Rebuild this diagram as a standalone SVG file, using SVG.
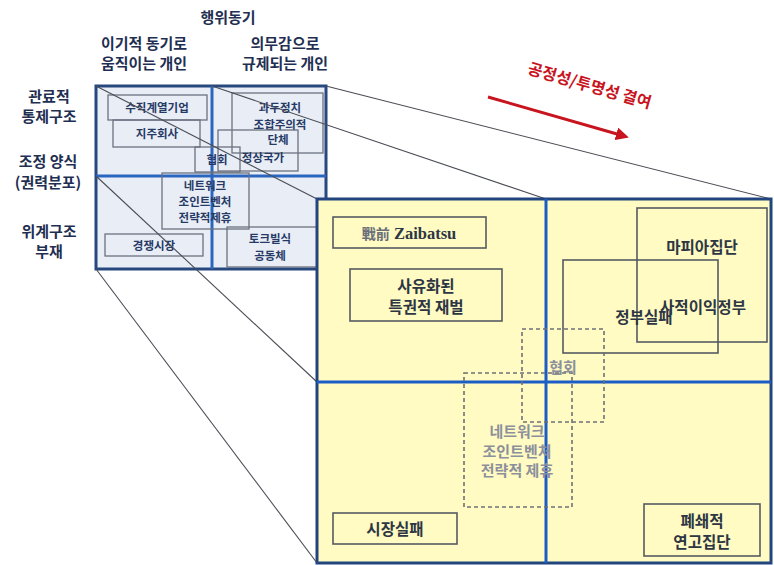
<svg xmlns="http://www.w3.org/2000/svg" width="774" height="565" viewBox="0 0 774 565">
<defs>
<style>
.hd{font-family:"Noto Sans CJK KR","Noto Sans",sans-serif;font-weight:bold;font-size:15px;fill:#1f2f52;text-anchor:middle}
.sm{font-family:"Noto Sans CJK KR","Noto Sans",sans-serif;font-weight:bold;font-size:11.5px;fill:#263a66;text-anchor:middle}
.lg{font-family:"Noto Sans CJK KR","Noto Sans",sans-serif;font-weight:bold;font-size:15.6px;fill:#2d3644;text-anchor:middle}
.gr{font-family:"Noto Sans CJK KR","Noto Sans",sans-serif;font-weight:bold;font-size:15px;fill:#8c8f9c;text-anchor:middle}
.sb{fill:none;stroke:#6c7180;stroke-width:1.3}
.lb{fill:none;stroke:#555a62;stroke-width:1.6}
.db{fill:none;stroke:#6e7178;stroke-width:1.6;stroke-dasharray:4 3}
.con{stroke:#4a4d55;stroke-width:1.1;fill:none}
</style>
<marker id="ah" markerWidth="13" markerHeight="13" refX="8" refY="6.5" orient="auto" markerUnits="userSpaceOnUse">
<path d="M0,0 L13,6.5 L0,13 z" fill="#c8141e"/>
</marker>
</defs>
<rect width="774" height="565" fill="#ffffff"/>

<g id="headers">
<text class="hd" x="228" y="23">행위동기</text>
<text class="hd" x="144" y="48.5">이기적 동기로</text>
<text class="hd" x="144" y="68.5">움직이는 개인</text>
<text class="hd" x="285" y="48.5">의무감으로</text>
<text class="hd" x="285" y="68.5">규제되는 개인</text>
<text class="hd" x="49" y="102">관료적</text>
<text class="hd" x="49" y="122">통제구조</text>
<text class="hd" x="48" y="167">조정 양식</text>
<text class="hd" x="48" y="188">(권력분포)</text>
<text class="hd" x="49" y="237">위계구조</text>
<text class="hd" x="49" y="257">부재</text>
</g>

<g id="small-grid">
<rect x="96" y="86" width="230" height="183" fill="#e9edf6" stroke="#26487e" stroke-width="3"/>
<line x1="212" y1="86" x2="212" y2="269" stroke="#2a66c0" stroke-width="3"/>
<line x1="96" y1="176" x2="326" y2="176" stroke="#2a66c0" stroke-width="3"/>
</g>
<g id="s-suzik"><rect class="sb" x="108" y="95" width="99" height="25"/><text class="sm" x="157" y="112">수직계열기업</text></g>
<g id="s-jiju"><rect class="sb" x="113" y="120" width="87" height="27"/><text class="sm" x="157" y="138">지주회사</text></g>
<g id="s-hyuphoe"><rect class="sb" x="195" y="147" width="45" height="25"/><text class="sm" x="217" y="164">협회</text></g>
<g id="s-gwadu"><rect class="sb" x="232" y="93" width="91" height="60"/><text class="sm" x="280" y="112">과두정치</text><text class="sm" x="280" y="129">조합주의적</text><text class="sm" x="278" y="144">단체</text></g>
<g id="s-jeongsang"><rect class="sb" x="218" y="130" width="80" height="41"/><text class="sm" x="263" y="162">정상국가</text></g>
<g id="s-network"><rect class="sb" x="162" y="173" width="87" height="56"/><text class="sm" x="205" y="190">네트워크</text><text class="sm" x="205" y="206">조인트벤처</text><text class="sm" x="205" y="222">전략적제휴</text></g>
<g id="s-market"><rect class="sb" x="105" y="234" width="98" height="22"/><text class="sm" x="154" y="250">경쟁시장</text></g>
<g id="s-tocq"><rect class="sb" x="227" y="227" width="96" height="40"/><text class="sm" x="270" y="243">토크빌식</text><text class="sm" x="270" y="260">공동체</text></g>

<g id="connectors">
<line class="con" x1="96" y1="86" x2="317" y2="199"/>
<line class="con" x1="212" y1="86" x2="546" y2="199"/>
<line class="con" x1="326" y1="86" x2="771" y2="199"/>
<line class="con" x1="96" y1="176" x2="317" y2="382"/>
<line class="con" x1="96" y1="269" x2="317" y2="563"/>
<line x1="488" y1="97" x2="624" y2="136" stroke="#c8141e" stroke-width="3" marker-end="url(#ah)"/>
</g>
<g id="arrow-label"><text transform="translate(588,91) rotate(16)" font-family="Noto Sans CJK KR, Noto Sans, sans-serif" font-weight="bold" font-size="16" fill="#c8141e" text-anchor="middle">공정성/투명성 결여</text></g>

<g id="large-grid">
<rect x="317" y="199" width="454" height="364" fill="#fffbc2" stroke="#23457e" stroke-width="3"/>
<line x1="546" y1="199" x2="546" y2="563" stroke="#1c5cc6" stroke-width="3"/>
<line x1="317" y1="382" x2="771" y2="382" stroke="#1c5cc6" stroke-width="3"/>
</g>
<g id="l-zaibatsu"><rect class="lb" x="333" y="217" width="153" height="31"/><text x="409" y="239" text-anchor="middle" font-family="Liberation Serif, Noto Sans CJK KR, serif" font-weight="bold" font-size="16.5"><tspan fill="#6a6f7a" font-family="Noto Sans CJK KR, sans-serif" font-size="14">戰前</tspan><tspan fill="#2d3644"> Zaibatsu</tspan></text></g>
<g id="l-jaebeol"><rect class="lb" x="350" y="269" width="152" height="52"/><text class="lg" x="426" y="292">사유화된</text><text class="lg" x="426" y="313">특권적 재벌</text></g>
<g id="l-mafia"><rect class="lb" x="637" y="208" width="130" height="134"/><text class="lg" x="702" y="253">마피아집단</text><text class="lg" x="703" y="313">사적이익정부</text></g>
<g id="l-govfail"><rect class="lb" x="563" y="260" width="155" height="93"/><text class="lg" x="644" y="323">정부실패</text></g>
<g id="l-hyuphoe"><rect class="db" x="522" y="329" width="82" height="93"/><text class="gr" x="563" y="373">협회</text></g>
<g id="l-network"><rect class="db" x="464" y="373" width="108" height="134"/><text class="gr" x="517" y="437">네트워크</text><text class="gr" x="517" y="456.5">조인트벤처</text><text class="gr" x="517" y="476">전략적 제휴</text></g>
<g id="l-marketfail"><rect class="lb" x="333" y="513" width="124" height="31"/><text class="lg" x="395" y="535">시장실패</text></g>
<g id="l-closed"><rect class="lb" x="644" y="504" width="116" height="52"/><text class="lg" x="702" y="527">폐쇄적</text><text class="lg" x="702" y="548">연고집단</text></g>
</svg>
